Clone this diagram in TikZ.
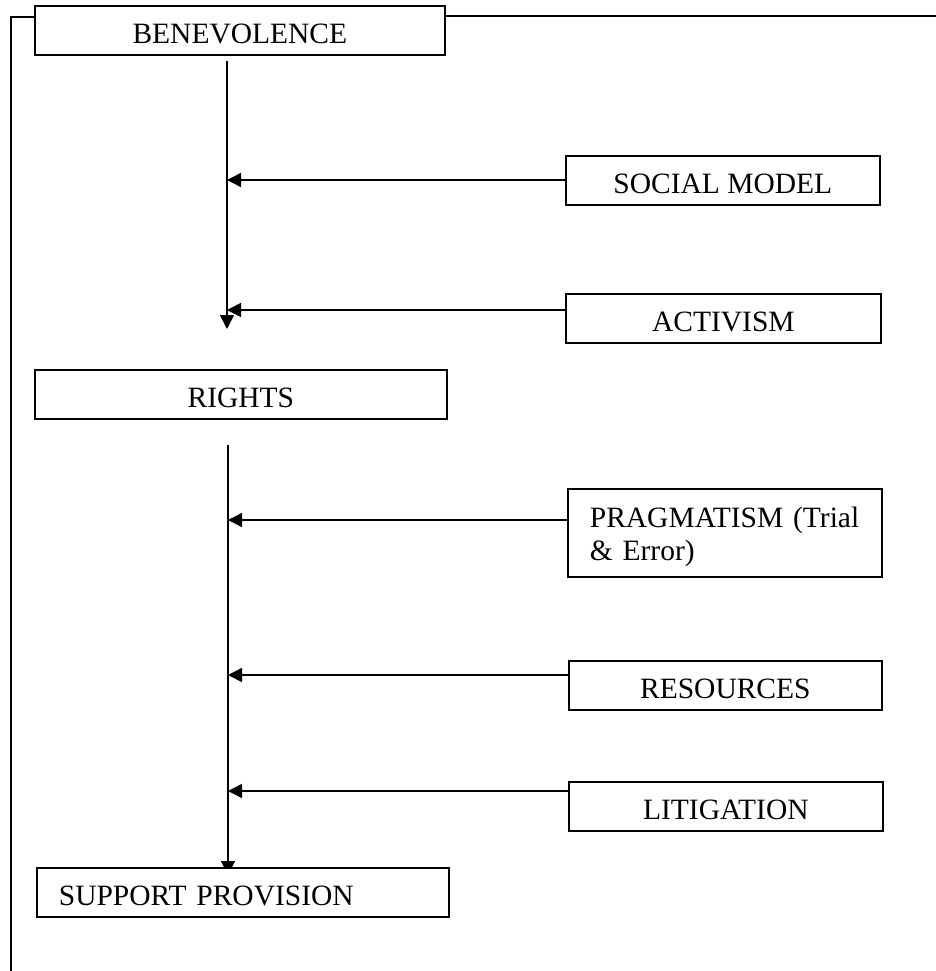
\documentclass[tikz,border=0pt]{standalone}
\usepackage{fontspec}
\setmainfont{Liberation Serif}
\usetikzlibrary{arrows.meta,calc,backgrounds}
\begin{document}
\begin{tikzpicture}[x=1pt,y=-1pt,
  box/.style={draw=black, line width=1.7pt, fill=white, inner xsep=0pt, inner ysep=0pt,
    minimum height=49pt, text height=27pt, text depth=0pt,
    font=\fontsize{29.5}{33}\selectfont, anchor=north west},
  conn/.style={line width=1.6pt},
  arr/.style={conn, -{Triangle[length=14pt,width=14pt]}},
  framel/.style={line width=1.3pt}]
\useasboundingbox (0,0) rectangle (936,971);

\node[box, minimum width=410pt] (ben) at (34,5) {BENEVOLENCE};
\node[box, minimum width=314pt] (soc) at (565,155) {SOCIAL MODEL};
\node[box, minimum width=315pt] (act) at (565,293) {ACTIVISM};
\node[box, minimum width=412pt] (rig) at (34,369) {RIGHTS};
\node[box, minimum width=314pt, minimum height=88pt, text width=270pt, inner xsep=22pt,
  align=left, text height=28pt, text depth=38pt] (prag) at (567,488) {PRAGMATISM (Trial\\ \& Error)};
\node[box, minimum width=313pt] (res) at (568,660) {RESOURCES};
\node[box, minimum width=314pt] (lit) at (568,781) {LITIGATION};
\node[box, minimum width=412pt, text width=368pt, inner xsep=22pt, align=left] (sup) at (36,867) {SUPPORT PROVISION};

\coordinate (t1) at (227,61);
\coordinate (h1) at (227,329);
\coordinate (t2) at (228,445);
\coordinate (jsoc) at (227,180);
\coordinate (jact) at (227,310);
\coordinate (jprag) at (228,520);
\coordinate (jres) at (228,675);
\coordinate (jlit) at (228,791);
\coordinate (fl) at (11,17);
\coordinate (fb) at (11,971);
\coordinate (fr) at (936,16);

\draw[arr] (t1) -- (h1);
\draw[arr] (soc.west |- jsoc) -- (jsoc);
\draw[arr] (act.west |- jact) -- (jact);
\draw[arr] (prag.west |- jprag) -- (jprag);
\draw[arr] (res.west |- jres) -- (jres);
\draw[arr] (lit.west |- jlit) -- (jlit);
\begin{scope}[on background layer]
\draw[arr] (t2) -- ($(sup.north -| t2)+(0,8)$);
\end{scope}

\draw[framel] (ben.west |- fl) -- (fl) -- (fb);
\draw[framel] (ben.east |- fr) -- (fr);
\end{tikzpicture}
\end{document}
